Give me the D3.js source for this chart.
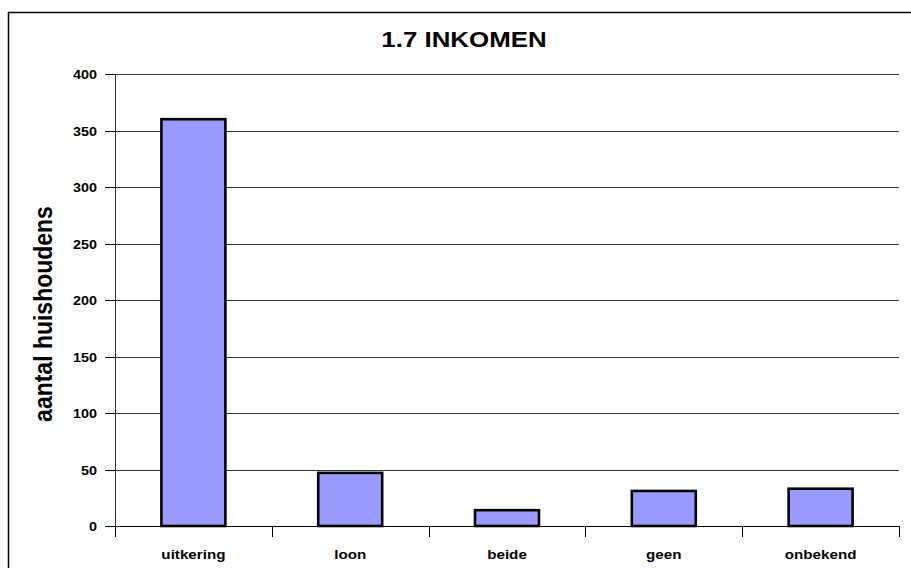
<!DOCTYPE html>
<html>
<head>
<meta charset="utf-8">
<script src="https://cdn.jsdelivr.net/npm/d3@7"></script>
<style>
  body { margin: 0; background: #fff; }
  text { font-family: Arial, "Liberation Sans", sans-serif; font-weight: bold; fill: #000; }
</style>
</head>
<body>
<div id="chart"></div>
<script>
// ============ data ============
var categories = ["uitkering", "loon", "beide", "geen", "onbekend"];
var households = [360, 47, 14, 31, 33];
var yTicks = [0, 50, 100, 150, 200, 250, 300, 350, 400];

var chartTitle = "1.7 INKOMEN";
var yTitle = "aantal huishoudens";

// ============ set up chart ============
var svgWidth = 911;
var svgHeight = 568;

var margin = { top: 74, right: 12, bottom: 42, left: 115 };
var width = 899 - margin.left;
var height = 526 - margin.top;

// text in the source looks stretched sideways a bit
var stretch = 1.15;

var svg = d3.select("#chart")
  .append("svg")
  .attr("width", svgWidth)
  .attr("height", svgHeight);

// outer frame (runs off the right / bottom edge)
svg.append("rect")
  .attr("x", 8.5)
  .attr("y", 12.5)
  .attr("width", 920)
  .attr("height", 600)
  .attr("fill", "none")
  .attr("stroke", "#000")
  .attr("stroke-width", 1.5);

var chartGroup = svg.append("g")
  .attr("transform", `translate(${margin.left}, ${margin.top})`);

// scales
var xBandScale = d3.scaleBand()
  .domain(categories)
  .range([0, width])
  .paddingInner(0.592)
  .paddingOuter(0.296);

var yLinearScale = d3.scaleLinear()
  .domain([0, 400])
  .range([height, 0]);

// gridlines
chartGroup.append("g")
  .attr("class", "grid")
  .call(d3.axisLeft(yLinearScale).tickValues(yTicks).tickSize(-width).tickFormat(""))
  .call(g => g.select(".domain").remove())
  .selectAll("line")
  .attr("stroke", "#333")
  .attr("shape-rendering", "crispEdges");

// y axis
var leftAxis = d3.axisLeft(yLinearScale)
  .tickValues(yTicks)
  .tickSize(10)
  .tickFormat(d3.format("d"));

var yAxis = chartGroup.append("g")
  .call(leftAxis);

yAxis.select(".domain")
  .attr("stroke", "#333")
  .attr("d", `M0.5,${height}V0`);

yAxis.selectAll("line")
  .attr("stroke", "#000")
  .attr("shape-rendering", "crispEdges");

yAxis.selectAll("text")
  .attr("x", 0)
  .attr("dy", "0.36em")
  .attr("transform", `translate(-18,0) scale(${stretch},1)`)
  .style("font-size", "12.5px")
  .style("font-family", "Arial, 'Liberation Sans', sans-serif")
  .style("font-weight", "bold");

// bars
chartGroup.selectAll("rect.bar")
  .data(households)
  .enter()
  .append("rect")
  .attr("class", "bar")
  .attr("x", (d, i) => xBandScale(categories[i]))
  .attr("y", d => yLinearScale(d))
  .attr("width", xBandScale.bandwidth())
  .attr("height", d => height - yLinearScale(d))
  .attr("fill", "#9999FF")
  .attr("stroke", "#000")
  .attr("stroke-width", 2.6);

// x axis (baseline + category separator ticks)
var xAxis = chartGroup.append("g")
  .attr("transform", `translate(0, ${height})`);

xAxis.append("line")
  .attr("x1", 0)
  .attr("x2", width)
  .attr("y1", 0.5)
  .attr("y2", 0.5)
  .attr("stroke", "#000");

var step = xBandScale.step();
var firstEdge = xBandScale(categories[0]) - step * xBandScale.paddingOuter();
var sepTicks = d3.range(categories.length + 1);

xAxis.selectAll("line.sep")
  .data(sepTicks)
  .enter()
  .append("line")
  .attr("class", "sep")
  .attr("x1", d => Math.round(firstEdge + d * step) + 0.5)
  .attr("x2", d => Math.round(firstEdge + d * step) + 0.5)
  .attr("y1", 0)
  .attr("y2", 11)
  .attr("stroke", "#000");

// category labels
xAxis.selectAll("text.cat")
  .data(categories)
  .enter()
  .append("text")
  .attr("class", "cat")
  .attr("text-anchor", "middle")
  .attr("transform", d => `translate(${xBandScale(d) + xBandScale.bandwidth() / 2}, 33) scale(${stretch},1)`)
  .style("font-size", "13.2px")
  .text(d => d);

// title
svg.append("text")
  .attr("text-anchor", "middle")
  .attr("transform", `translate(464, 47) scale(${stretch},1)`)
  .style("font-size", "22.5px")
  .text(chartTitle);

// y axis title
svg.append("text")
  .attr("text-anchor", "middle")
  .attr("transform", `translate(52, 314) rotate(-90) scale(1,${stretch})`)
  .style("font-size", "23px")
  .text(yTitle);
</script>
</body>
</html>
